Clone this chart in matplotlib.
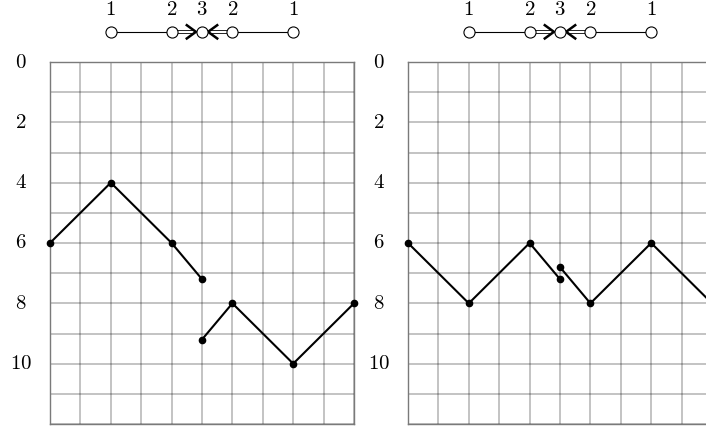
import numpy as np
import matplotlib
matplotlib.use('Agg')
import matplotlib.pyplot as plt
from matplotlib.transforms import blended_transform_factory

plt.rcParams['mathtext.fontset'] = 'cm'
plt.rcParams['font.family'] = 'serif'
plt.rcParams['font.serif'] = ['DejaVu Serif']

# data
node_x = [2, 4, 5, 6, 8]
node_labels = ['1', '2', '3', '2', '1']

left_seg1_x = [0, 2, 4, 5]
left_seg1_y = [6, 4, 6, 7.2]
left_seg2_x = [5, 6, 8, 10]
left_seg2_y = [9.2, 8, 10, 8]

right_seg1_x = [0, 2, 4, 5]
right_seg1_y = [6, 8, 6, 7.2]
right_seg2_x = [5, 6, 8, 10]
right_seg2_y = [6.8, 8, 6, 8]

ytick_vals = [0, 2, 4, 6, 8, 10]

W, H = 706, 429
fig = plt.figure(figsize=(W / 100, H / 100), dpi=100)

grid_col = 'black'
fs = 15


def panel(left_px, seg1, seg2):
    ax = fig.add_axes([left_px / W, 5 / H, 304 / W, 362 / H])
    ax.set_xlim(0, 10)
    ax.set_ylim(12, 0)
    ax.set_xticks(range(0, 11))
    ax.set_yticks(range(0, 13))
    ax.grid(True, color=grid_col, alpha=0.3, lw=1.1)
    ax.set_axisbelow(True)
    ax.tick_params(length=0, labelbottom=False, labelleft=False)
    for s in ax.spines.values():
        s.set_color('#7a7a7a')
        s.set_linewidth(1.0)
    tr = blended_transform_factory(fig.transFigure, ax.transData)
    for v in ytick_vals:
        ax.text((left_px - 29) / W, v, f'${v}$', transform=tr, ha='center',
                va='center', fontsize=fs, clip_on=False)

    for xs, ys in (seg1, seg2):
        ax.plot(xs, ys, color='black', lw=1.5, marker='o', ms=4.5,
                clip_on=False, zorder=5)

    # top node diagram
    yn = -1.0
    ax.plot([node_x[0], node_x[1]], [yn, yn], color='black', lw=0.8, clip_on=False)
    ax.plot([node_x[3], node_x[4]], [yn, yn], color='black', lw=0.8, clip_on=False)
    d = 0.055
    for a, b, sgn in ((node_x[1], node_x[2], 1), (node_x[3], node_x[2], -1)):
        for off in (-d, d):
            ax.plot([a, b - sgn * 0.3], [yn + off, yn + off], color='black',
                    lw=0.6, clip_on=False)
        tip = b - sgn * 0.2
        ax.plot([tip - sgn * 0.3, tip, tip - sgn * 0.3], [yn - 0.22, yn, yn + 0.22],
                color='black', lw=1.8, clip_on=False, solid_joinstyle='miter')
    ax.plot(node_x, [yn] * len(node_x), ls='none', marker='o', ms=8,
            mfc='white', mec='black', mew=0.8, clip_on=False, zorder=6)
    for x, lab in zip(node_x, node_labels):
        ax.text(x, -1.57, f'${lab}$', ha='center', va='baseline', fontsize=fs,
                clip_on=False)
    return ax


panel(50, (left_seg1_x, left_seg1_y), (left_seg2_x, left_seg2_y))
panel(408, (right_seg1_x, right_seg1_y), (right_seg2_x, right_seg2_y))

fig.savefig('out.png', dpi=100)
